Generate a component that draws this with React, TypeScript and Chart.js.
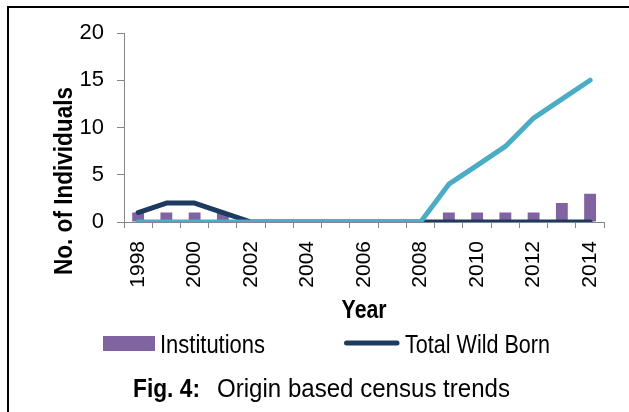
import React, { useEffect, useRef } from "react";
import { Chart, registerables } from "chart.js";

Chart.register(...registerables);

const years = ["1998", "1999", "2000", "2001", "2002", "2003", "2004", "2005", "2006", "2007", "2008", "2009", "2010", "2011", "2012", "2013", "2014"];
const institutions = [1, 1, 1, 1, 0, 0, 0, 0, 0, 0, 0, 1, 1, 1, 1, 2, 3];
const totalWildBorn = [1, 2, 2, 1, 0, 0, 0, 0, 0, 0, 0, 0, 0, 0, 0, 0, 0];
const captiveBorn = [0, 0, 0, 0, 0, 0, 0, 0, 0, 0, 0, 4, 6, 8, 11, 13, 15];
const yMin = 0;
const yMax = 20;
const yStep = 5;
const yTitle = "No. of Individuals";
const xTitle = "Year";
const captionBold = "Fig. 4:";
const captionText = "Origin based census trends";

const FONT = '"Liberation Sans Narrow", "Arial Narrow", "Liberation Sans", Arial, sans-serif';
const PURPLE = "#8064A2";
const NAVY = "#1F3A60";
const CYAN = "#4BACC6";
const AXIS = "#868686";

// draw text condensed horizontally to fit a given width (emulates a narrow face)
function fitText(ctx: CanvasRenderingContext2D, text: string, x: number, y: number, width: number, align: CanvasTextAlign) {
  const m = ctx.measureText(text).width;
  const s = Math.min(1, width / m);
  ctx.save();
  ctx.translate(x, y);
  ctx.scale(s, 1);
  ctx.textAlign = align;
  ctx.textBaseline = "alphabetic";
  ctx.fillText(text, 0, 0);
  ctx.restore();
}

const overlay = {
  id: "overlay",
  afterDraw(chart: any) {
    const ctx = chart.ctx as CanvasRenderingContext2D;
    const area = chart.chartArea;
    ctx.save();
    ctx.fillStyle = "#000";
    // y axis title
    ctx.save();
    ctx.translate(72, 181);
    ctx.rotate(-Math.PI / 2);
    ctx.font = `bold 26px ${FONT}`;
    fitText(ctx, yTitle, 0, 0, 188, "center");
    ctx.restore();
    // x axis title
    ctx.font = `bold 25px ${FONT}`;
    fitText(ctx, xTitle, (area.left + area.right) / 2, 318, 45, "center");
    // legend
    const ds = chart.data.datasets;
    const bar = ds.find((d: any) => d.label === "Institutions");
    const line = ds.find((d: any) => d.label === "Total Wild Born");
    ctx.fillStyle = bar.backgroundColor;
    ctx.fillRect(103, 336, 52, 15);
    ctx.fillStyle = "#000";
    ctx.font = `26px ${FONT}`;
    fitText(ctx, bar.label, 160, 353, 105, "left");
    ctx.strokeStyle = line.borderColor;
    ctx.lineWidth = 5;
    ctx.lineCap = "round";
    ctx.beginPath();
    ctx.moveTo(346.5, 343);
    ctx.lineTo(397, 343);
    ctx.stroke();
    fitText(ctx, line.label, 405, 353, 145, "left");
    // caption
    ctx.font = `bold 26px ${FONT}`;
    fitText(ctx, captionBold, 133, 397, 67, "left");
    ctx.font = `26px ${FONT}`;
    fitText(ctx, captionText, 217, 397, 293, "left");
    ctx.restore();
  },
};

export default function App() {
  const ref = useRef<HTMLCanvasElement>(null);
  useEffect(() => {
    if (!ref.current) return;
    const chart = new Chart(ref.current, {
      type: "bar",
      data: {
        labels: years,
        datasets: [
          {
            type: "line",
            label: "Captive Born",
            data: captiveBorn,
            borderColor: CYAN,
            backgroundColor: CYAN,
            borderWidth: 5,
            pointRadius: 0,
            tension: 0,
            borderCapStyle: "round",
            borderJoinStyle: "round",
            order: 0,
          } as any,
          {
            type: "line",
            label: "Total Wild Born",
            data: totalWildBorn,
            borderColor: NAVY,
            backgroundColor: NAVY,
            borderWidth: 5,
            pointRadius: 0,
            tension: 0,
            borderCapStyle: "round",
            borderJoinStyle: "round",
            order: 1,
          } as any,
          {
            type: "bar",
            label: "Institutions",
            data: institutions,
            backgroundColor: PURPLE,
            barPercentage: 0.42,
            categoryPercentage: 1,
            order: 2,
          } as any,
        ],
      },
      options: {
        responsive: false,
        animation: false,
        events: [],
        layout: { padding: { left: 0, top: 33, right: 24, bottom: 110 } },
        plugins: { legend: { display: false }, tooltip: { enabled: false } },
        scales: {
          x: {
            offset: true,
            grid: { display: true, drawOnChartArea: false, drawTicks: true, tickLength: 6, color: AXIS, offset: true },
            border: { display: true, color: AXIS, width: 1 },
            ticks: {
              autoSkip: false,
              minRotation: 90,
              maxRotation: 90,
              color: "#000",
              padding: 13,
              font: { family: FONT, size: 21 },
              callback: (_v: any, i: number) => (i % 2 === 0 ? years[i] : ""),
            },
            afterFit: (s: any) => {
              s.height = 80;
            },
          },
          y: {
            min: yMin,
            max: yMax,
            grid: { display: true, drawOnChartArea: false, drawTicks: true, tickLength: 7, color: AXIS },
            border: { display: true, color: AXIS, width: 1 },
            ticks: { stepSize: yStep, color: "#000", padding: 13, font: { family: FONT, size: 22 } },
            afterFit: (s: any) => {
              s.width = 124;
            },
          },
        },
      },
      plugins: [overlay],
    });
    return () => chart.destroy();
  }, []);
  return (
    <div style={{ position: "absolute", left: 0, top: 0, width: 629, height: 412, background: "#fff", overflow: "hidden" }}>
      <canvas ref={ref} width={629} height={412} style={{ position: "absolute", left: 0, top: 0 }} />
      <div style={{ position: "absolute", left: 7, top: 6, width: 640, height: 420, borderTop: "2px solid #000", borderLeft: "2px solid #000" }} />
    </div>
  );
}
